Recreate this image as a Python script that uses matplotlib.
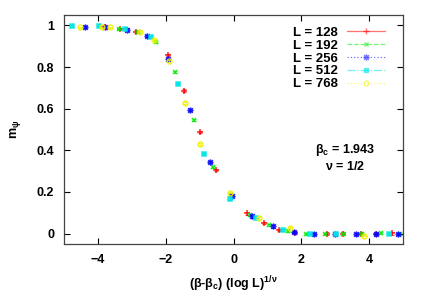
import matplotlib
matplotlib.use("Agg")
import matplotlib.pyplot as plt
from matplotlib.lines import Line2D
from matplotlib.path import Path

plt.rcParams['font.family'] = ['Liberation Sans', 'DejaVu Sans']
plt.rcParams['font.weight'] = 'bold'
plt.rcParams['mathtext.fontset'] = 'custom'
plt.rcParams['mathtext.rm'] = 'Liberation Sans:bold'
plt.rcParams['mathtext.it'] = 'Liberation Sans:bold'
plt.rcParams['mathtext.bf'] = 'Liberation Sans:bold'

labels = ["L = 128", "L = 192", "L = 256", "L = 512", "L = 768"]

x128 = [-3.78, -3.34, -2.88, -1.94, -1.47, -0.99, -0.52, 0.41, 0.89, 1.34, 1.82, 2.76, 3.24, 3.75, 4.21, 4.67]
y128 = [0.990, 0.983, 0.970, 0.858, 0.687, 0.488, 0.305, 0.097, 0.051, 0.018, 0.005, 0.000, 0.000, 0.000, 0.000, 0.001]

x192 = [-3.39, -2.83, -2.28, -1.73, -1.18, -0.62, -0.07, 0.48, 1.05, 1.60, 2.15, 2.71, 3.24, 3.79, 4.35, 4.91]
y192 = [0.983, 0.970, 0.922, 0.778, 0.545, 0.321, 0.186, 0.090, 0.043, 0.011, 0.000, 0.000, 0.000, 0.000, 0.002, -0.001]

x256 = [-4.37, -3.78, -3.13, -2.54, -1.92, -1.29, -0.69, -0.06, 0.53, 1.16, 1.78, 2.37, 2.99, 3.62, 4.21, 4.85]
y256 = [0.990, 0.990, 0.980, 0.951, 0.840, 0.593, 0.345, 0.181, 0.082, 0.034, 0.006, 0.000, 0.000, 0.000, 0.000, 0.000]

x512 = [-4.76, -3.98, -3.21, -2.43, -1.65, -0.88, -0.10, 0.67, 1.46, 2.24, 3.01, 4.57]
y512 = [0.997, 0.995, 0.983, 0.945, 0.720, 0.384, 0.166, 0.075, 0.018, 0.000, 0.000, 0.000]

x768 = [-4.53, -3.89, -3.64, -2.75, -2.34, -1.89, -1.44, -1.00, -0.12, 0.76, 1.65, 3.84]
y768 = [0.990, 0.990, 0.990, 0.970, 0.930, 0.830, 0.627, 0.430, 0.197, 0.075, 0.029, -0.010]

err = [0.006, 0.005, 0.005, 0.004, 0.004]

# gnuplot-style star: plus combined with cross
star = Path([(-1, 0), (1, 0), (0, -1), (0, 1), (-0.75, -0.75), (0.75, 0.75), (-0.75, 0.75), (0.75, -0.75)],
            [Path.MOVETO, Path.LINETO] * 4)

xs = [x128, x192, x256, x512, x768]
ys = [y128, y192, y256, y512, y768]
colors = ['#ff0000', '#00ee00', '#0000ff', '#00e5e5', '#f0f000']
markers = ['+', 'x', star, 's', 'o']
mfcs = ['#ff0000', '#00ee00', '#0000ff', '#00e5e5', 'none']
msizes = [4, 3.5, 4.5, 3.3, 3.5]
lstyles = ['-', '--', ':', '-.', ':']

fig = plt.figure(figsize=(4.27, 2.99), dpi=100)
ax = fig.add_axes([0.150, 0.184, 0.794, 0.766])

for x, y, e, c, m, mf, ms, lab in zip(xs, ys, err, colors, markers, mfcs, msizes, labels):
    ax.errorbar(x, y, yerr=e, fmt='none', ecolor=c, elinewidth=0.8, capsize=1.5,
                capthick=0.8, alpha=0.7)
    ax.plot(x, y, ls='none', marker=m, color=c, mfc=mf, mec=c, ms=ms, mew=1.1, alpha=0.85)

handles = [Line2D([0], [0], color=c, ls=ls, lw=0.9, marker=m, mfc=mf, mec=c, ms=ms, alpha=0.55)
           for c, ls, m, mf, ms in zip(colors, lstyles, markers, mfcs, msizes)]
leg = ax.legend(handles, labels, loc='upper right', bbox_to_anchor=(0.975, 0.99),
                frameon=False, markerfirst=False, fontsize=9.5, handlelength=2.9,
                labelspacing=0.05, handletextpad=0.7, borderpad=0.2)
for t in leg.get_texts():
    t.set_fontweight('bold')

ax.text(3.3, 0.40, r'$\beta_c$ = 1.943', fontsize=9, fontweight='bold', ha='center', va='center')
ax.text(3.3, 0.32, r'$\nu$ = 1/2', fontsize=9, fontweight='bold', ha='center', va='center')

ax.set_xlim(-5, 5)
ax.set_ylim(-0.05, 1.05)
ax.set_xticks([-4, -2, 0, 2, 4])
ax.set_yticks([0, 0.2, 0.4, 0.6, 0.8, 1])
ax.set_yticklabels(['0', '0.2', '0.4', '0.6', '0.8', '1'])
ax.tick_params(direction='in', top=True, right=True, labelsize=9, length=4, width=0.8, pad=7)
for lbl in ax.get_xticklabels() + ax.get_yticklabels():
    lbl.set_fontweight('bold')
for s in ax.spines.values():
    s.set_linewidth(0.9)
    s.set_color('#444444')

ax.set_xlabel(r'($\beta$-$\beta_c$) (log L)$^{1/\nu}$', fontsize=9, fontweight='bold', labelpad=6)
ax.set_ylabel(r'm$_\psi$', fontsize=9, fontweight='bold', labelpad=10)

fig.savefig('out.png', dpi=100)
